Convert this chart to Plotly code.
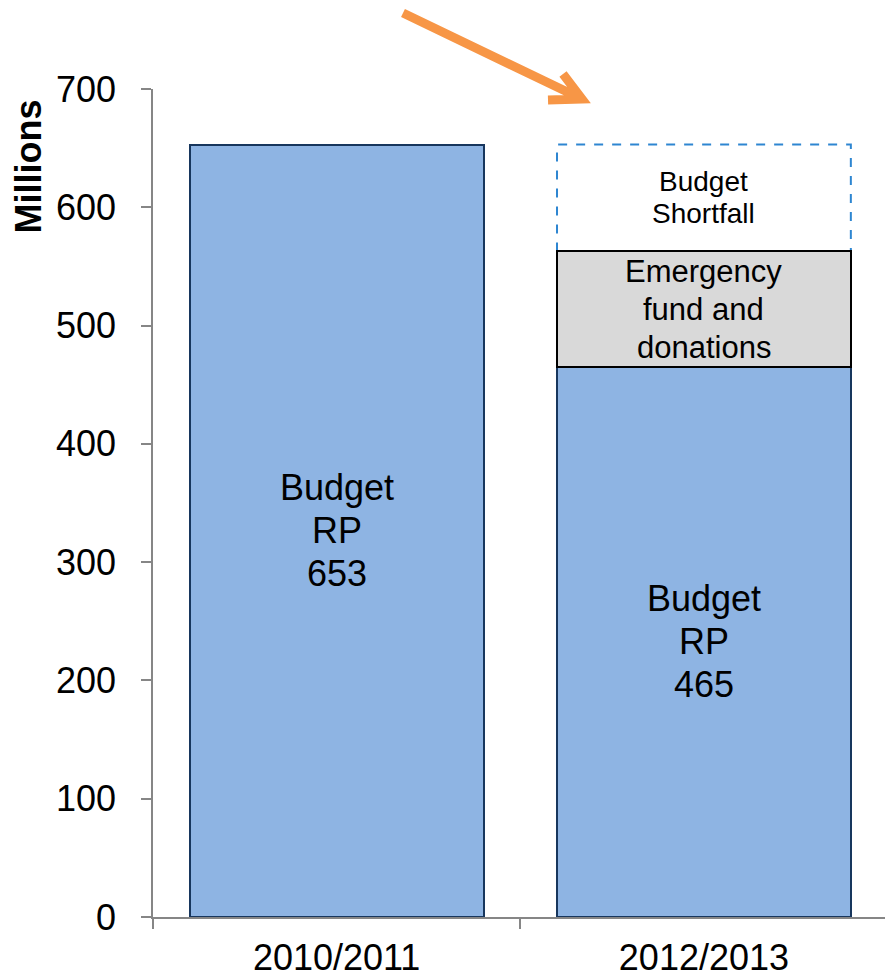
import plotly.graph_objects as go

# ---- data ----
categories = ["2010/2011", "2012/2013"]
budget_rp = [653, 465]
emergency = [None, 98]
shortfall = [None, 90]
y_ticks = [0, 100, 200, 300, 400, 500, 600, 700]

budget_labels = [["Budget", "RP", "653"], ["Budget", "RP", "465"]]
emergency_label = ["Emergency", "fund and", "donations"]
shortfall_label = ["Budget", "Shortfall"]

FONT = "Liberation Sans, Arial, sans-serif"
BAR_W = 0.8

fig = go.Figure()
fig.add_trace(go.Bar(x=categories, y=budget_rp, name="Budget RP",
                     marker=dict(color="#8EB4E3", line=dict(color="#17365D", width=2)),
                     width=BAR_W))
fig.add_trace(go.Bar(x=categories, y=emergency, name="Emergency fund and donations",
                     marker=dict(color="#D9D9D9", line=dict(color="#000000", width=1.5)),
                     width=BAR_W))
fig.add_trace(go.Bar(x=categories, y=shortfall, name="Budget Shortfall",
                     marker=dict(color="rgba(0,0,0,0)", line=dict(width=0)),
                     width=BAR_W))

# dashed outline for shortfall segment (derived from data)
i2 = 1
base = budget_rp[i2] + emergency[i2]
fig.add_shape(type="rect", xref="x", yref="y", layer="between",
              x0=i2 - BAR_W / 2, x1=i2 + BAR_W / 2, y0=base, y1=base + shortfall[i2],
              line=dict(color="#2E86D1", width=2, dash="dash"), fillcolor="rgba(0,0,0,0)")


def add_lines(xi, yc, lines, size, spacing):
    n = len(lines)
    for k, t in enumerate(lines):
        fig.add_annotation(x=xi, y=yc, xref="x", yref="y", text=t, showarrow=False,
                           yshift=-(k - (n - 1) / 2) * spacing,
                           font=dict(family=FONT, size=size, color="black"),
                           xanchor="center", yanchor="middle")


for i, c in enumerate(categories):
    add_lines(i, budget_rp[i] / 2, budget_labels[i], 36, 43)
add_lines(1, budget_rp[1] + emergency[1] / 2, emergency_label, 31, 38)
add_lines(1, budget_rp[1] + emergency[1] + shortfall[1] / 2, shortfall_label, 28, 32)

# y title
fig.add_annotation(x=-0.1694, y=0.9064, xref="paper", yref="paper", text="<b>Millions</b>",
                   textangle=-90, showarrow=False, xanchor="center", yanchor="middle",
                   font=dict(family=FONT, size=36, color="black"))

# orange arrow (decoration)
def px(xp, yp):
    return (xp - 153) / 732, (917 - yp) / 828

sx, sy = px(403, 13)
tx, ty = px(582, 99)
w1x, w1y = px(548, 100)
w2x, w2y = px(563, 74)
fig.add_shape(type="path", xref="paper", yref="paper",
              path=f"M {sx} {sy} L {tx} {ty} M {w1x} {w1y} L {tx} {ty} L {w2x} {w2y}",
              line=dict(color="#F79646", width=9))

fig.update_layout(
    barmode="stack", bargap=0.2, showlegend=False,
    width=885, height=978,
    margin=dict(l=153, r=0, t=89, b=61),
    paper_bgcolor="white", plot_bgcolor="white",
    font=dict(family=FONT, color="black"),
)
fig.update_xaxes(type="category", range=[-0.5, 1.493], showline=True, linecolor="#868686",
                 linewidth=1.5, ticks="outside", tickson="boundaries", ticklen=10,
                 tickcolor="#868686", tickwidth=1.5, showgrid=False,
                 tickfont=dict(family=FONT, size=36, color="black"), ticklabelstandoff=8)
fig.update_yaxes(range=[0, 700], tickvals=y_ticks, showline=True, linecolor="#868686",
                 linewidth=1.5, ticks="outside", ticklen=10, tickcolor="#868686",
                 tickwidth=1.5, showgrid=False, zeroline=False,
                 tickfont=dict(family=FONT, size=36, color="black"), ticklabelstandoff=18)

fig.write_html("out.html", config={"displayModeBar": False},
               post_script="document.body.style.margin='0';document.body.style.overflow='hidden';")
